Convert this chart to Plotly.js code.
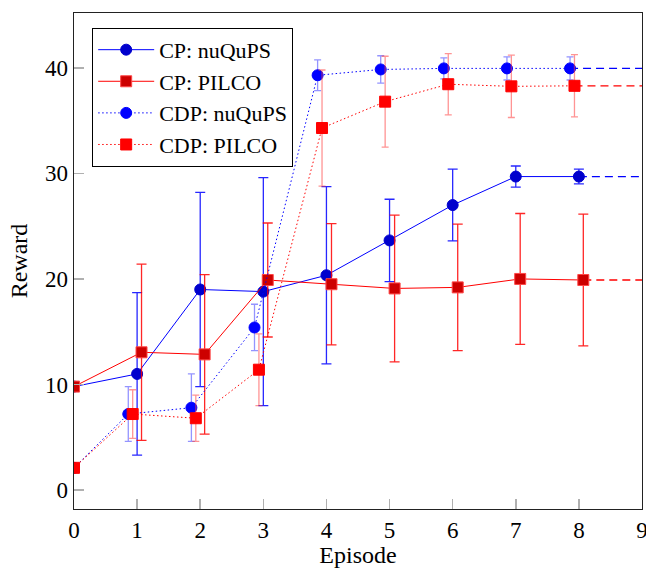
<!DOCTYPE html>
<html><head><meta charset="utf-8">
<script src="https://cdn.plot.ly/plotly-3.0.1.min.js"></script>
<style>html,body{margin:0;padding:0;background:#fff}#chart{width:646px;height:568px}</style>
</head><body><div id="chart"></div>
<script>
// ---- data ----
const seriesNames = ['CP: nuQuPS', 'CP: PILCO', 'CDP: nuQuPS', 'CDP: PILCO'];

const cpNuqupsX   = [0, 1, 2, 3, 4, 5, 6, 7, 8];
const cpNuqupsY   = [9.8, 11.0, 19.0, 18.8, 20.35, 23.65, 27.0, 29.7, 29.7];
const cpNuqupsErr = [0, 7.7, 9.2, 10.8, 8.4, 3.9, 3.4, 1.0, 0.7];

const cpPilcoX   = [0, 1.07, 2.07, 3.07, 4.08, 5.08, 6.08, 7.07, 8.07];
const cpPilcoY   = [9.8, 13.05, 12.85, 19.9, 19.5, 19.1, 19.2, 20.0, 19.9];
const cpPilcoErr = [0, 8.35, 7.55, 5.4, 5.75, 6.95, 6.0, 6.2, 6.25];

const cdpNuqupsX   = [0, 0.86, 1.86, 2.86, 3.86, 4.86, 5.86, 6.86, 7.86];
const cdpNuqupsY   = [2.1, 7.2, 7.8, 15.4, 39.3, 39.85, 39.95, 39.95, 39.95];
const cdpNuqupsErr = [0, 2.6, 3.2, 2.2, 1.45, 1.3, 1.0, 1.1, 1.1];

const cdpPilcoX   = [0, 0.93, 1.93, 2.93, 3.93, 4.93, 5.93, 6.93, 7.93];
const cdpPilcoY   = [2.1, 7.2, 6.8, 11.4, 34.3, 36.8, 38.45, 38.25, 38.3];
const cdpPilcoErr = [0, 2.3, 2.2, 3.4, 5.5, 4.3, 2.9, 2.95, 2.95];

const extendTo = 9;
const xTicks = [0, 1, 2, 3, 4, 5, 6, 7, 8, 9];
const yTicks = [0, 10, 20, 30, 40];

// ---- styles ----
const FONT = 'Liberation Serif';
const styles = [
  {line: 'rgb(0,0,255)', dash: 'solid', marker: 'rgb(0,0,205)', edge: 'rgb(0,0,205)', symbol: 'circle', size: 11, err: 'rgba(0,0,255,0.85)', errW: 1.3, cap: 5},
  {line: 'rgb(255,0,0)', dash: 'solid', marker: 'rgb(205,0,0)', edge: 'rgb(255,70,70)', symbol: 'square', size: 11, err: 'rgba(255,0,0,0.85)', errW: 1.3, cap: 5},
  {line: 'rgb(0,0,255)', dash: '1.5px,2.5px', marker: 'rgb(0,0,255)', edge: 'rgb(0,0,255)', symbol: 'circle', size: 11, err: 'rgba(60,60,255,0.55)', errW: 1.3, cap: 3.5},
  {line: 'rgb(255,0,0)', dash: '1.5px,2.5px', marker: 'rgb(255,0,0)', edge: 'rgb(255,0,0)', symbol: 'square', size: 11, err: 'rgba(255,60,60,0.55)', errW: 1.3, cap: 3.5}
];
const allX = [cpNuqupsX, cpPilcoX, cdpNuqupsX, cdpPilcoX];
const allY = [cpNuqupsY, cpPilcoY, cdpNuqupsY, cdpPilcoY];
const allE = [cpNuqupsErr, cpPilcoErr, cdpNuqupsErr, cdpPilcoErr];

const traces = [];
// dashed extensions first (underneath)
for (let i = 0; i < 4; i++) {
  const xs = allX[i], ys = allY[i], s = styles[i];
  traces.push({
    x: [xs[xs.length - 1], extendTo], y: [ys[ys.length - 1], ys[ys.length - 1]],
    mode: 'lines', showlegend: false, hoverinfo: 'skip',
    line: {color: s.line, width: 1.3, dash: '8px,5px'}
  });
}
for (let i = 0; i < 4; i++) {
  const s = styles[i];
  traces.push({
    x: allX[i], y: allY[i], name: seriesNames[i],
    mode: 'lines+markers', type: 'scatter',
    line: {color: s.line, width: 1, dash: s.dash},
    marker: {symbol: s.symbol, size: s.size, color: s.marker, line: {color: s.edge, width: 1}},
    error_y: {type: 'data', array: allE[i], visible: true, color: s.err, thickness: s.errW, width: s.cap}
  });
}

const layout = {
  width: 646, height: 568,
  margin: {l: 74, r: 4, t: 13, b: 59},
  paper_bgcolor: '#fff', plot_bgcolor: '#fff',
  font: {family: FONT, size: 23, color: '#000'},
  showlegend: true,
  legend: {
    x: 0.032, y: 0.97, xanchor: 'left', yanchor: 'top',
    bgcolor: '#fff', bordercolor: '#000', borderwidth: 1,
    font: {family: FONT, size: 22, color: '#000'},
    itemwidth: 56, tracegroupgap: 0
  },
  xaxis: {
    range: [0, 9], tickvals: xTicks, ticktext: xTicks.map(String),
    ticks: 'inside', ticklen: 10, tickwidth: 1.5, tickcolor: '#b0b0b0',
    ticklabeloverflow: 'allow',
    showgrid: false, zeroline: false,
    showline: true, linecolor: '#222', linewidth: 1.3, mirror: true,
    tickfont: {family: FONT, size: 23},
    title: {text: 'Episode', font: {family: FONT, size: 24}, standoff: 8}
  },
  yaxis: {
    range: [-1.8, 45.2], tickvals: yTicks, ticktext: yTicks.map(String),
    ticks: 'inside', ticklen: 10, tickwidth: 1.5, tickcolor: '#b0b0b0',
    showgrid: false, zeroline: false,
    showline: true, linecolor: '#222', linewidth: 1.3, mirror: true,
    tickfont: {family: FONT, size: 23},
    title: {text: 'Reward', font: {family: FONT, size: 24}, standoff: 10}
  }
};

Plotly.newPlot('chart', traces, layout, {displayModeBar: false, staticPlot: true});
</script>
</body></html>
